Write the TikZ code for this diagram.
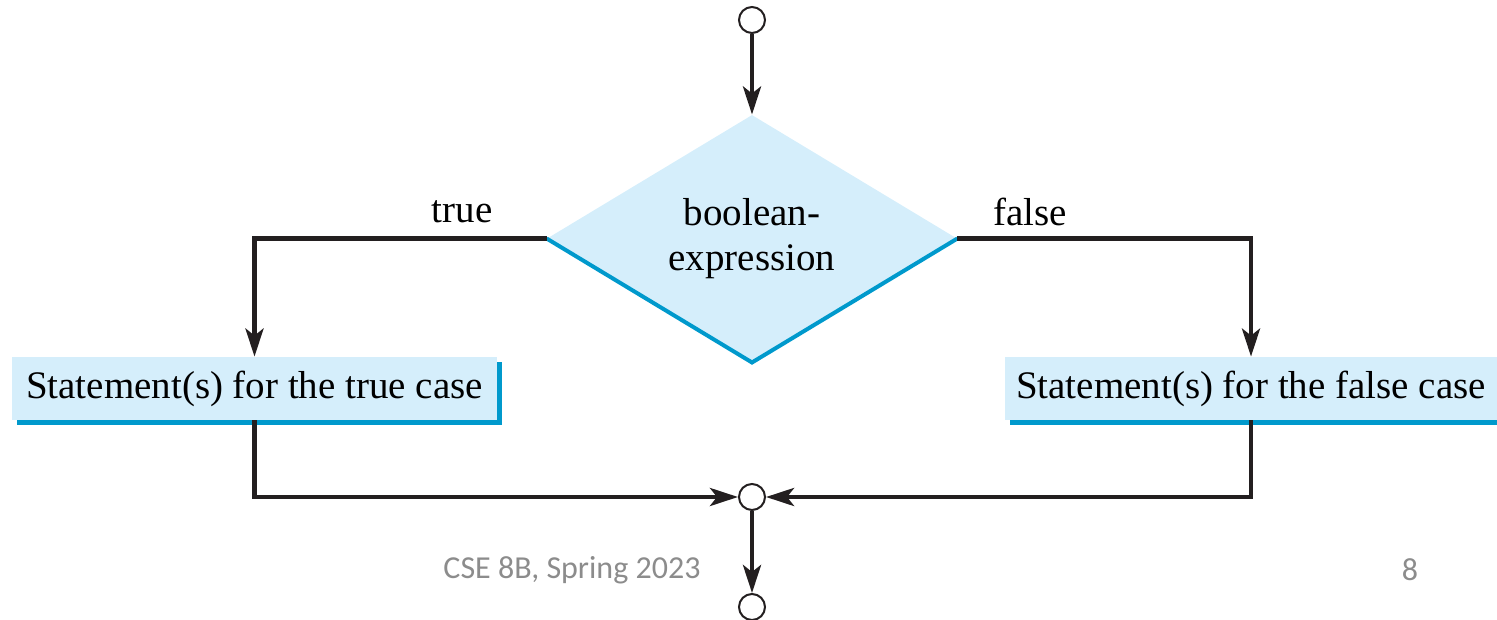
\documentclass[tikz,border=0pt]{standalone}
\usepackage{fontspec}
\setmainfont{Liberation Serif}
\newfontfamily\footfont{Carlito}
\usetikzlibrary{shapes.geometric,arrows.meta,shadows}
\definecolor{boxfill}{HTML}{D5EEFB}
\definecolor{boxedge}{HTML}{0099CC}
\definecolor{ink}{HTML}{231F20}
\definecolor{footgray}{HTML}{8C8C8C}
\begin{document}
\begin{tikzpicture}[x=0.5pt,y=-0.5pt,font=\fontsize{19.5}{22.5}\selectfont,
  flow/.style={draw=ink,line width=2.2pt,-{Stealth[length=14pt,width=9pt,inset=3.5pt]}},
  joint/.style={circle,draw=ink,line width=1pt,fill=white,minimum size=13pt,inner sep=0pt},
  stmt/.style={rectangle,fill=boxfill,inner sep=0pt,minimum height=31.5pt,
    drop shadow={shadow xshift=2.5pt,shadow yshift=-2.5pt,fill=boxedge,opacity=1}},
  decision/.style={diamond,fill=boxfill,inner sep=0pt,minimum width=205pt,
    minimum height=120pt,align=center},
  footer/.style={font=\footfont\fontsize{16}{18}\selectfont,text=footgray}]
\useasboundingbox (0,0) rectangle (1497,620);
% circles and the decision
\node[joint] (start) at (752,20) {};
\node[decision] (cond) at (752,238.5) {boolean-\\expression};
\draw[boxedge,line width=2pt] (cond.west) -- (cond.south) -- (cond.east);
\node (truelbl) at (462,212) {true};
\node (falselbl) at (1030,212) {false};
% the two branches
\node[stmt,minimum width=242.5pt] (truebox) at (254.5,388.5) {Statement(s) for the true case};
\node[stmt,minimum width=246pt] (falsebox) at (1251,388.5) {Statement(s) for the false case};
\node[joint] (merge) at (752,497) {};
\node[joint] (stop) at (752,607) {};
% connectors
\draw[flow] (start) -- (cond);
\draw[flow] (cond.west) -| (truebox);
\draw[flow] (cond.east) -| (falsebox);
\draw[flow] (truebox) |- (merge);
\draw[flow] (falsebox) |- (merge);
\draw[flow] (merge) -- (stop);
% slide footer
\node[footer] (course) at (572,570) {CSE 8B, Spring 2023};
\node[footer] (page) at (1410,570) {8};
\end{tikzpicture}
\end{document}
